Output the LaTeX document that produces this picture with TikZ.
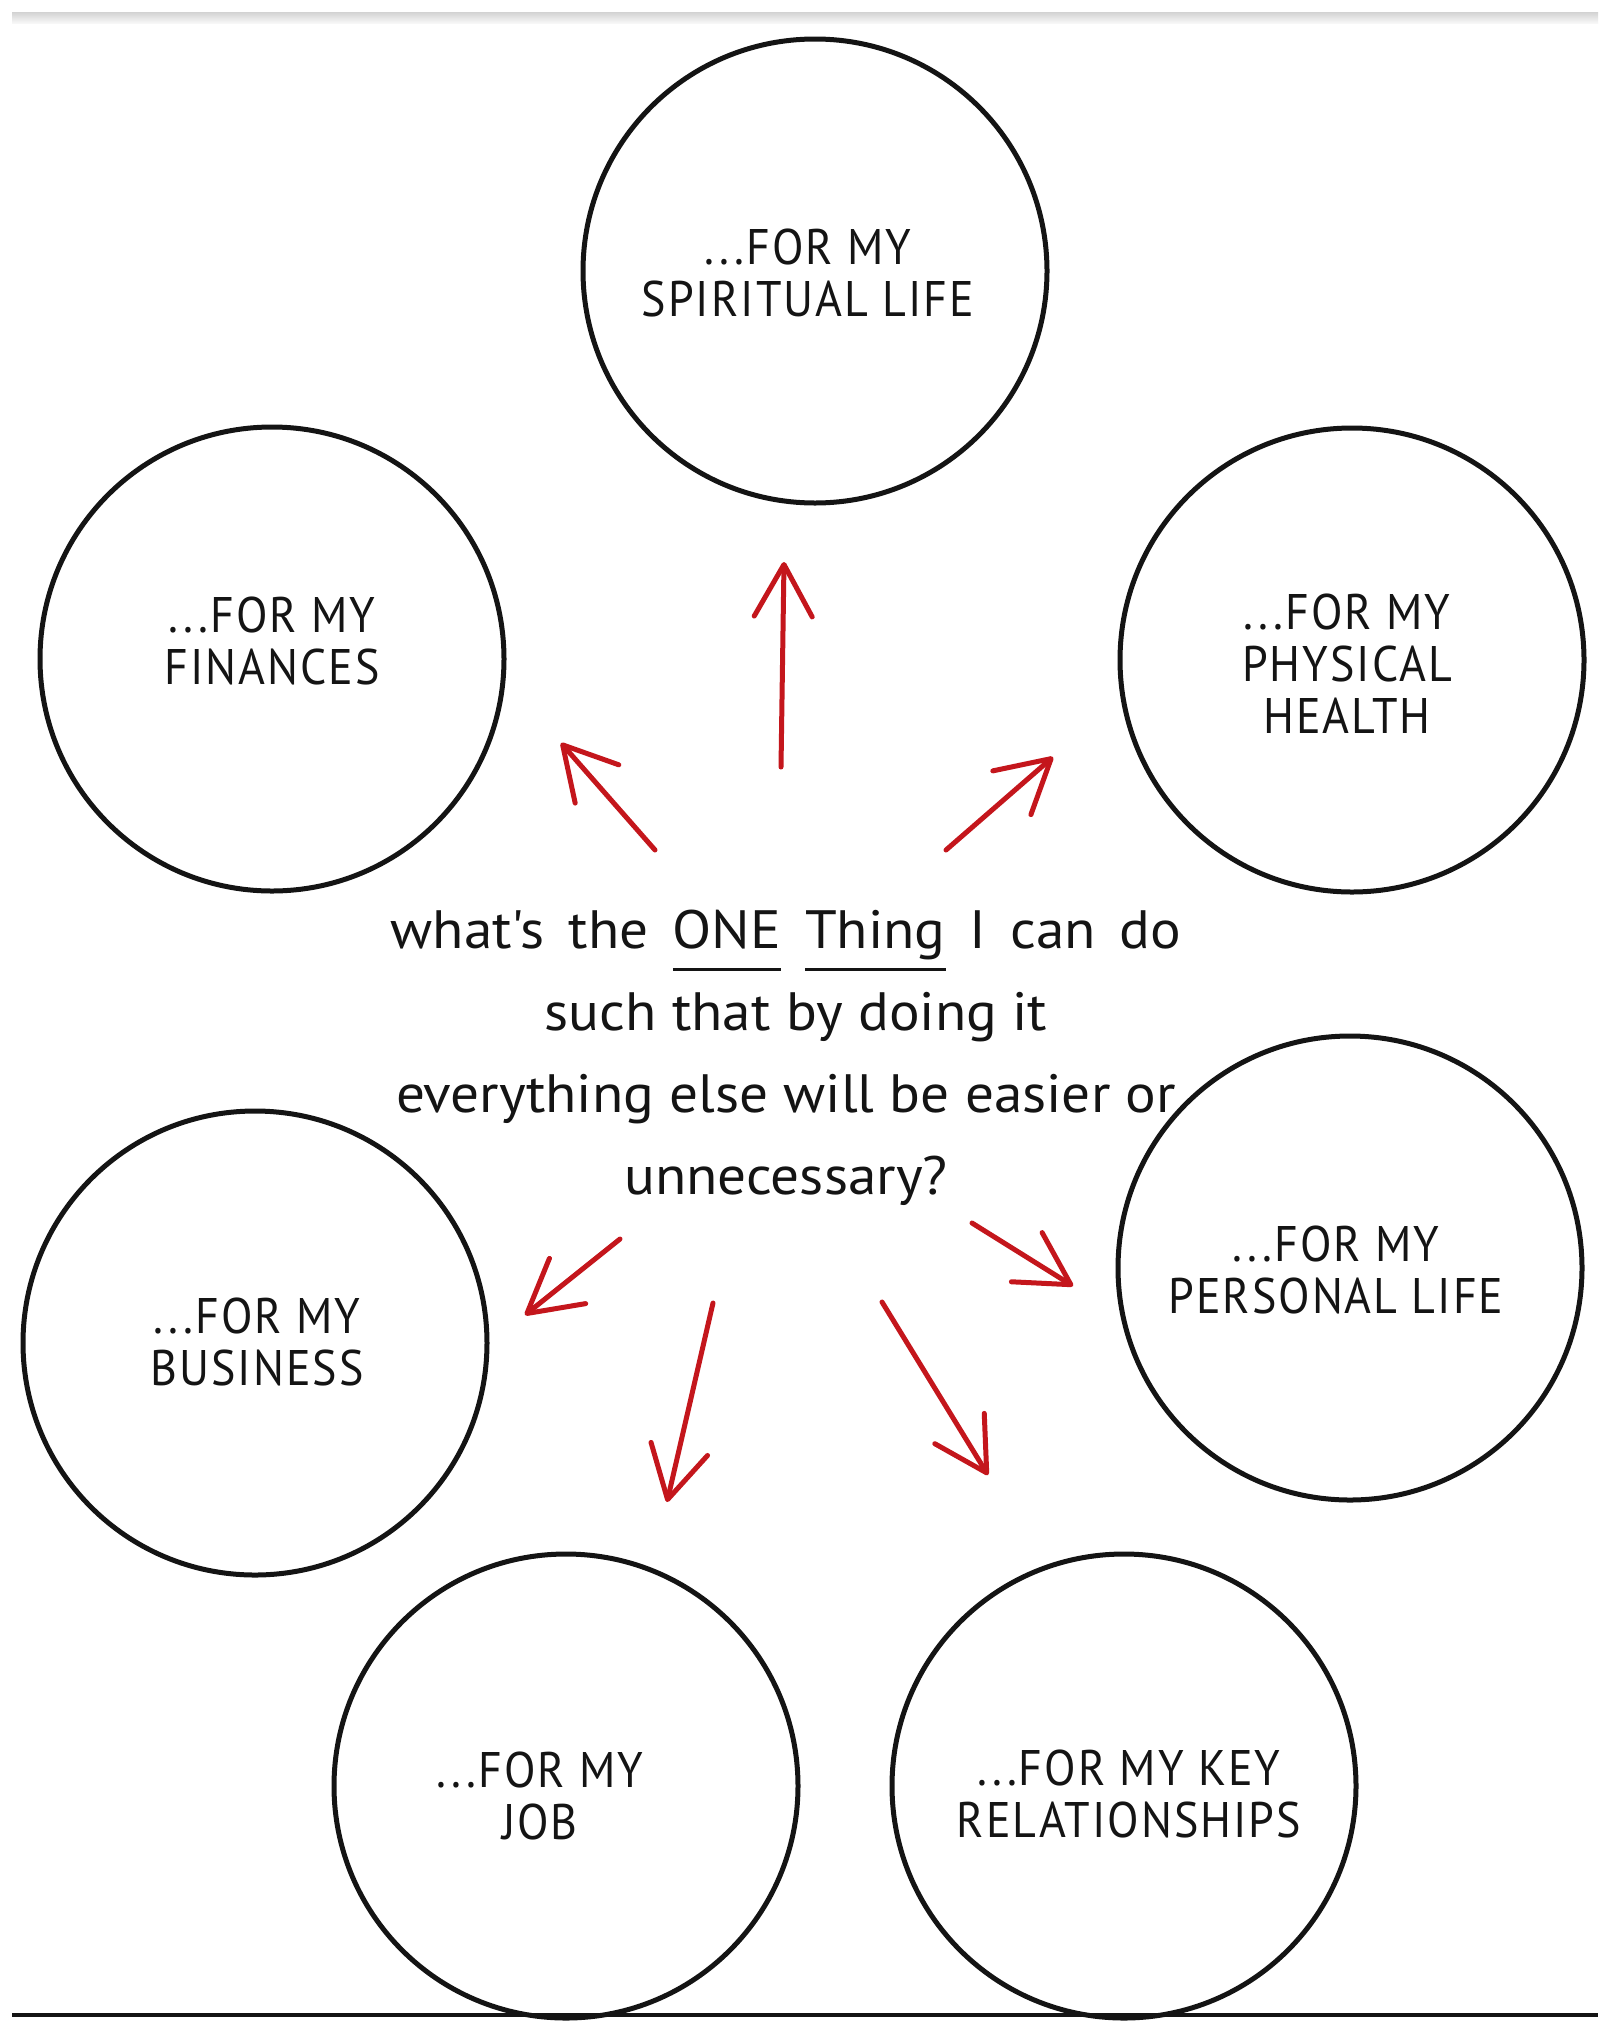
\documentclass[tikz,border=0pt]{standalone}
\usepackage{fontspec}
\setmainfont{PT Sans}
\newfontfamily\handfont[FakeStretch=0.92,LetterSpace=4]{PT Sans}
\newfontfamily\qfont[FakeStretch=1.06]{PT Sans}
\usetikzlibrary{arrows.meta}
\definecolor{arrowred}{RGB}{196,22,28}
\definecolor{ink}{RGB}{20,20,20}
\newcommand\myul[1]{\setbox0\hbox{#1}\rlap{\rule[-22pt]{\wd0}{3pt}}\box0{}}
\newcommand\wsp{\hspace{24pt}}
\tikzset{
  area/.style={circle, draw=ink, line width=5pt, minimum size=464pt, inner sep=0pt},
  lbl/.style={font=\handfont\fontsize{50pt}{52pt}\selectfont, align=center, text=ink, inner sep=0pt},
  question/.style={font=\qfont\fontsize{54pt}{82pt}\selectfont, align=center, text=ink, inner sep=0pt},
  ray/.style={draw=arrowred, line width=5pt, line cap=round,
    -{Straight Barb[length=52pt,width=58pt,round]}},
}
\begin{document}
\begin{tikzpicture}[x=1pt,y=-1pt]
\useasboundingbox (0,0) rectangle (1610,2029);
\fill[white] (0,0) rectangle (1610,2029);
% top shadow band and bottom rule
\fill[top color=gray!35, bottom color=gray!6, draw=none] (12,12) rectangle (1598,23);
\draw[ink, line width=4.5pt] (12,2015) -- (1598,2015);

% circles
\node[area] (spiritual) at (815,271) {};
\node[area] (finances)  at (272,659) {};
\node[area] (physical)  at (1352,660) {};
\node[area] (business)  at (255,1343) {};
\node[area] (personal)  at (1350,1268) {};
\node[area] (job)       at (566,1786) {};
\node[area] (key)       at (1124,1786) {};

% labels
\node[lbl] (spiritualT) at (808,273) {...FOR MY\\SPIRITUAL LIFE};
\node[lbl] (financesT)  at (272,641) {...FOR MY\\FINANCES};
\node[lbl] (physicalT)  at (1347,664) {...FOR MY\\PHYSICAL\\HEALTH};
\node[lbl] (businessT)  at (257,1342) {...FOR MY\\BUSINESS};
\node[lbl] (personalT)  at (1336,1270) {...FOR MY\\PERSONAL LIFE};
\node[lbl] (jobT)       at (540,1796) {...FOR MY\\JOB};
\node[lbl] (keyT)       at (1129,1794) {...FOR MY KEY\\RELATIONSHIPS};

% central question
\node[question] (q) at (786,1058) {what's\wsp the\wsp \myul{ONE}\wsp \myul{Thing}\wsp I\wsp can\wsp do\\
  \hspace*{20pt}such that by doing it\\
  everything else will be easier or\\
  unnecessary?};

% arrow end points
\coordinate (upS) at (781,767);   \coordinate (upE) at (784,562);
\coordinate (ulS) at (655,850);   \coordinate (ulE) at (561,743);
\coordinate (urS) at (946,850);   \coordinate (urE) at (1053,757);
\coordinate (dlS) at (620,1239);  \coordinate (dlE) at (525,1315);
\coordinate (rdS) at (972,1223);  \coordinate (rdE) at (1073,1286);
\coordinate (dnS) at (713,1303);  \coordinate (dnE) at (667,1502);
\coordinate (drS) at (882,1302);  \coordinate (drE) at (988,1475);

\draw[ray] (upS) -- (upE);
\draw[ray] (ulS) -- (ulE);
\draw[ray] (urS) -- (urE);
\draw[ray] (dlS) -- (dlE);
\draw[ray] (rdS) -- (rdE);
\draw[ray] (dnS) -- (dnE);
\draw[ray] (drS) -- (drE);
\end{tikzpicture}
\end{document}
